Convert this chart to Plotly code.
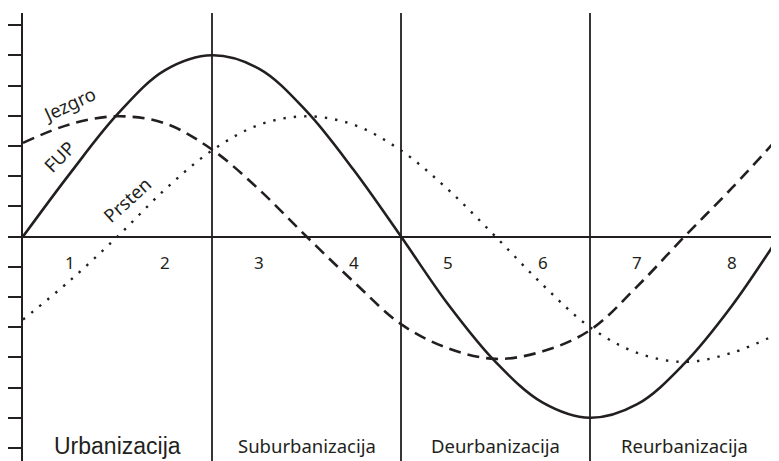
import plotly.graph_objects as go

# faze (x u jedinicama, 0..8), vrijednosti procijenjene sa slike
x_vals = [0, 0.5, 1, 1.5, 2, 2.5, 3, 3.5, 4, 4.5, 5, 5.5, 6, 6.5, 7, 7.5, 8]
fup = [0, 2.1, 4.05, 5.5, 6.0, 5.55, 4.15, 2.2, 0, -2.25, -4.15, -5.5, -6.0, -5.55, -4.2, -2.3, 0]
jezgro = [3.1, 3.72, 3.98, 3.75, 2.88, 1.55, 0.0, -1.5, -2.9, -3.7, -4.05, -3.8, -3.1, -1.65, 0.0, 1.6, 3.3]
prsten = [-2.75, -1.45, 0.0, 1.55, 2.85, 3.7, 3.98, 3.7, 2.85, 1.55, 0.0, -1.6, -3.0, -3.85, -4.15, -3.85, -3.2]

phase_bounds = [2, 4, 6]
stage_nums = ["1", "2", "3", "4", "5", "6", "7", "8"]
stage_num_x = [0.5, 1.5, 2.5, 3.5, 4.5, 5.5, 6.5, 7.5]
phases = ["Urbanizacija", "Suburbanizacija", "Deurbanizacija", "Reurbanizacija"]
phase_x = [1, 3, 5, 7]
y_ticks = list(range(-7, 8))

INK = "#231f20"
SANS = "Noto Sans, Open Sans, sans-serif"

fig = go.Figure()
fig.add_trace(go.Scatter(x=x_vals, y=fup, mode="lines", name="FUP",
                         line=dict(color=INK, width=2.6, shape="spline")))
fig.add_trace(go.Scatter(x=x_vals, y=jezgro, mode="lines", name="Jezgro",
                         line=dict(color=INK, width=2.6, shape="spline", dash="12px,7px")))
fig.add_trace(go.Scatter(x=x_vals, y=prsten, mode="lines", name="Prsten",
                         line=dict(color=INK, width=2.4, shape="spline", dash="2.4px,8px")))

for b in phase_bounds:
    fig.add_shape(type="line", x0=b, x1=b, y0=0, y1=1, xref="x", yref="paper",
                  line=dict(color=INK, width=1.8))

for t, xx in zip(stage_nums, stage_num_x):
    fig.add_annotation(x=xx, y=-0.85, text=t, showarrow=False,
                       font=dict(family=SANS, size=17, color=INK))

for i, (t, xx) in enumerate(zip(phases, phase_x)):
    fam = "Liberation Sans, Arial, sans-serif" if i == 0 else SANS
    fig.add_annotation(x=xx, y=-6.92, text=t, showarrow=False,
                       font=dict(family=fam, size=23 if i == 0 else 18.5, color=INK))

# oznake krivulja
fig.add_annotation(x=0.49, y=4.4, text="Jezgro", showarrow=False, textangle=-25,
                   font=dict(family=SANS, size=18.5, color=INK))
fig.add_annotation(x=0.38, y=2.65, text="FUP", showarrow=False, textangle=-46,
                   font=dict(family=SANS, size=18.5, color=INK))
fig.add_annotation(x=1.1, y=1.22, text="Prsten", showarrow=False, textangle=-42,
                   font=dict(family=SANS, size=18.5, color=INK))

# stranica ima 8px margine tijela, pa je slika pomaknuta
fig.update_layout(
    width=771, height=453,
    margin=dict(l=15, r=0, t=5, b=0),
    plot_bgcolor="white", paper_bgcolor="white",
    showlegend=False,
    xaxis=dict(range=[0, 8], showgrid=False, zeroline=False, showline=False,
               showticklabels=False, ticks=""),
    yaxis=dict(range=[-7.43, 7.4], showgrid=False, showticklabels=False,
               tickmode="array", tickvals=y_ticks, ticks="outside", ticklen=13,
               tickwidth=1.6, tickcolor=INK,
               showline=True, linecolor=INK, linewidth=2,
               zeroline=True, zerolinecolor=INK, zerolinewidth=2),
)

fig.write_html("out.html")
